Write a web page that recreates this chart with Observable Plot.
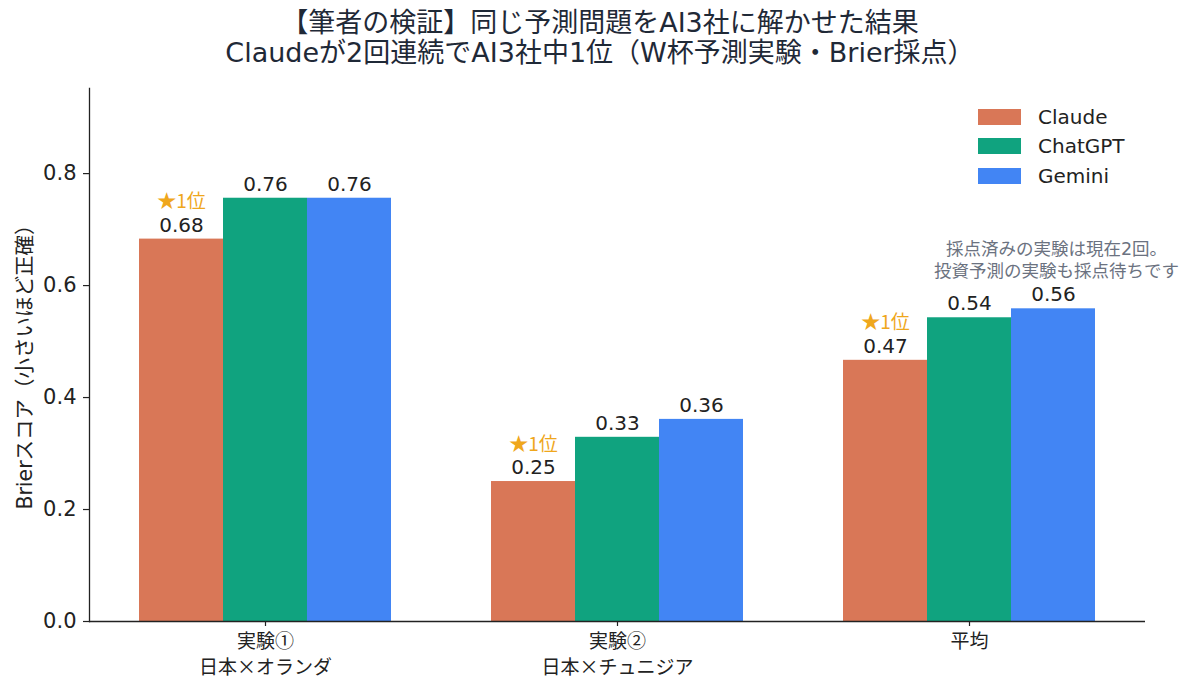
<!DOCTYPE html>
<html>
<head>
<meta charset="utf-8">
<script src="https://cdn.jsdelivr.net/npm/d3@7"></script>
<script src="https://cdn.jsdelivr.net/npm/@observablehq/plot@0.6"></script>
<style>
  body { margin: 0; background: #fff; }
  #wrap { position: relative; width: 1200px; height: 694px; font-family: "DejaVu Sans", "Noto Sans CJK JP", sans-serif; }
  #title { height: 80px; box-sizing: border-box; padding-top: 8px; text-align: center; font-size: 27px; line-height: 30px; color: #1f2937; }
  #legend { position: absolute; left: 978px; top: 102px; font-size: 20px; color: #222; }
  .row { display: flex; align-items: center; height: 29.5px; }
  .sw { width: 43px; height: 16px; margin-right: 17px; }
  #ylabel { position: absolute; left: 23px; top: 362px; transform: translate(-50%, -50%) rotate(-90deg); white-space: nowrap; font-size: 20.5px; color: #222; }
</style>
</head>
<body>
<div id="wrap">
  <div id="title">【筆者の検証】同じ予測問題をAI3社に解かせた結果<br>Claudeが2回連続でAI3社中1位（W杯予測実験・Brier採点）</div>
  <div id="chart"></div>
  <div id="legend"></div>
  <div id="ylabel">Brierスコア（小さいほど正確）</div>
</div>
<script>
const groups = ["実験①", "実験②", "平均"];
const groupLabels = ["実験①\n日本×オランダ", "実験②\n日本×チュニジア", "平均"];
const models = ["Claude", "ChatGPT", "Gemini"];
const colors = ["#D97757", "#10A37F", "#4285F4"];
const claudeScores = [0.683, 0.25, 0.4665];
const chatgptScores = [0.756, 0.329, 0.5425];
const geminiScores = [0.756, 0.361, 0.5585];
const winnerLabel = "★1位";
const yTicks = [0, 0.2, 0.4, 0.6, 0.8];
const note = "採点済みの実験は現在2回。\n投資予測の実験も採点待ちです";

const series = [claudeScores, chatgptScores, geminiScores];
const data = [];
groups.forEach((g, gi) => {
  const vals = series.map(s => s[gi]);
  const best = Math.min(...vals);
  models.forEach((m, mi) => data.push({group: g, model: m, value: vals[mi], winner: vals[mi] === best}));
});

const font = "'DejaVu Sans', 'Noto Sans CJK JP', sans-serif";
const cjk = "'Noto Sans CJK JP', sans-serif";
const chart = Plot.plot({
  width: 1200,
  height: 614,
  marginTop: 8,
  marginLeft: 88,
  marginRight: 54,
  marginBottom: 73,
  style: {fontFamily: font, background: "#fff", color: "#222"},
  fx: {domain: groups, padding: 0},
  x: {domain: models, paddingInner: 0, paddingOuter: 0.574, axis: null},
  y: {domain: [0, 0.952], axis: null},
  color: {domain: models, range: colors},
  marks: [
    Plot.barY(data, {fx: "group", x: "model", y: "value", fill: "model"}),
    Plot.ruleY([0], {stroke: "#222", strokeWidth: 1.3}),
    Plot.frame({anchor: "left", facetAnchor: "left", stroke: "#222", strokeWidth: 1.3}),
    Plot.axisY({ticks: yTicks, tickFormat: d => d.toFixed(1), fontSize: 21, tickSize: 6, tickPadding: 7, label: null, stroke: "#222", strokeWidth: 1.2, color: "#222"}),
    Plot.axisFx({anchor: "bottom", tickFormat: d => groupLabels[groups.indexOf(d)], fontSize: 19, fontFamily: cjk, tickSize: 5, tickPadding: 4, lineHeight: 1.33, label: null, strokeWidth: 1.2}),
    Plot.text(data, {fx: "group", x: "model", y: "value", text: d => d.value.toFixed(2), dy: -14, fontSize: 20, fill: "#222"}),
    Plot.text(data.filter(d => d.winner), {fx: "group", x: "model", y: "value", text: () => winnerLabel, dy: -37, fontSize: 19, fontFamily: cjk, fill: "#EFA71C"}),
    Plot.text([note], {fx: () => "平均", x: () => "Gemini", y: () => 0.648, dx: 3, text: d => d, fontSize: 17.5, lineHeight: 1.28, fill: "#6b7280"})
  ]
});
document.getElementById("chart").appendChild(chart);

const legend = document.getElementById("legend");
models.forEach((m, i) => {
  const row = document.createElement("div");
  row.className = "row";
  row.innerHTML = `<div class="sw" style="background:${colors[i]}"></div><span>${m}</span>`;
  legend.appendChild(row);
});
</script>
</body>
</html>
